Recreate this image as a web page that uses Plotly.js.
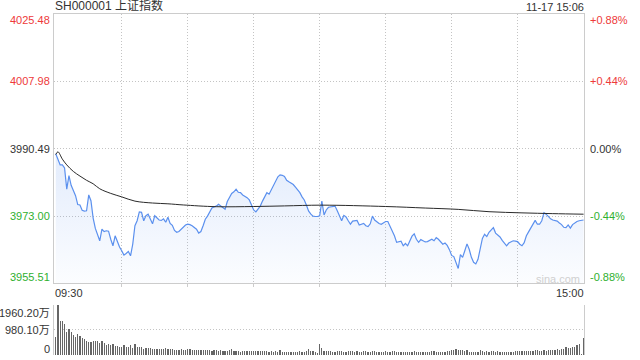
<!DOCTYPE html>
<html>
<head>
<meta charset="utf-8">
<script src="https://cdn.plot.ly/plotly-3.0.1.min.js"></script>
<style>html,body{margin:0;padding:0;background:#fff;}#chart{width:640px;height:360px;}</style>
</head>
<body>
<div id="chart"></div>
<script>
// ---- data ----
const title = 'SH000001 上证指数';
const stamp = '11-17 15:06';
const prevClose = 3990.49;
const priceTicks = [4025.48, 4007.98, 3990.49, 3973.00, 3955.51];
const priceTickText = ['4025.48', '4007.98', '3990.49', '3973.00', '3955.51'];
const pctTickText = ['+0.88%', '+0.44%', '0.00%', '-0.44%', '-0.88%'];
const volTicks = [1960.20, 980.10, 0];
const volTickText = ['1960.20万', '980.10万', '0'];
const timeLabels = ['09:30', '15:00'];

// price every minute (09:30 .. 11:30, 13:01 .. 15:00)
const prices = [
 3989.2,3987.6,3986.3,3986.3,3985.5,3980.0,3983.5,3981.0,3979.5,3978.3,
 3976.0,3975.9,3974.5,3974.3,3974.4,3978.5,3977.0,3972.5,3969.8,3967.9,
 3966.6,3969.6,3969.0,3969.2,3969.1,3967.0,3965.3,3967.9,3966.4,3965.0,
 3964.0,3962.9,3963.3,3963.8,3962.7,3965.7,3970.5,3971.8,3974.1,3974.0,
 3971.8,3973.1,3973.5,3972.2,3971.0,3973.1,3972.5,3972.0,3971.9,3972.3,
 3971.4,3972.7,3971.1,3970.6,3969.3,3968.8,3969.0,3969.5,3970.0,3970.7,
 3970.9,3970.8,3970.5,3970.1,3969.6,3968.6,3969.0,3970.5,3972.2,3973.0,
 3974.0,3975.1,3975.4,3975.6,3976.1,3975.7,3975.1,3974.8,3976.8,3978.0,
 3978.9,3979.3,3980.0,3979.2,3979.1,3978.5,3978.2,3977.8,3977.2,3976.0,
 3974.6,3974.1,3974.9,3975.6,3976.9,3978.0,3979.1,3978.7,3979.8,3981.0,
 3982.0,3983.2,3983.7,3983.6,3983.3,3982.3,3981.9,3981.6,3981.2,3980.5,
 3979.9,3979.1,3978.0,3977.2,3975.8,3974.3,3973.5,3973.0,3972.9,3972.9,
 3973.1,3976.9,3973.3,3974.6,3975.3,3975.4,3975.5,3975.6,3974.4,3973.2,
 3971.8,3973.2,3972.8,3971.8,3970.9,3971.7,3971.8,3971.9,3970.7,3971.0,
 3971.1,3970.5,3970.3,3971.0,3973.0,3972.0,3971.5,3971.1,3970.9,3971.3,
 3971.6,3971.6,3970.4,3969.0,3967.9,3966.2,3966.4,3966.5,3965.3,3965.9,
 3965.3,3966.4,3967.8,3968.4,3967.0,3966.2,3966.9,3966.6,3966.3,3966.4,
 3966.7,3967.0,3966.6,3967.4,3967.0,3966.4,3965.7,3966.0,3965.4,3964.3,
 3962.8,3962.5,3961.0,3959.4,3963.0,3962.3,3964.0,3965.8,3964.4,3962.3,
 3961.0,3960.6,3961.8,3965.0,3967.2,3968.3,3967.7,3968.8,3969.3,3970.0,
 3968.6,3968.1,3967.6,3966.7,3966.0,3965.3,3966.0,3966.4,3966.6,3966.5,
 3966.4,3965.7,3965.3,3966.1,3967.9,3968.9,3969.8,3971.0,3971.9,3970.9,
 3970.9,3971.8,3973.9,3973.5,3972.8,3972.3,3972.0,3971.9,3971.7,3971.2,
 3970.8,3970.1,3970.0,3970.7,3969.9,3970.8,3971.3,3971.6,3971.8,3971.9,
 3972.0
];

// average price line (minute, value)
const avgMinutes = [0,1,3,5,8,11,14,17,20,25,30,36,44,51,58,73,90,104,121,150,168,183,197,212,226,240];
const avgValues = [3989.0,3989.7,3987.8,3986.3,3984.6,3983.4,3982.3,3981.4,3980.1,3978.9,3978.0,3976.9,3976.4,3976.2,3975.9,3975.45,3975.5,3975.65,3975.85,3975.5,3975.1,3974.75,3974.15,3973.85,3973.65,3973.5];

// volume per minute (万)
const volumes = [
 693,1960,1333,1333,1202,915,1006,889,784,719,
 823,758,653,614,536,510,510,536,536,536,
 457,536,457,379,418,379,418,340,340,300,
 300,379,314,314,379,287,418,327,314,300,
 235,287,261,261,222,222,222,222,222,222,
 261,222,222,222,183,183,183,222,183,183,
 235,222,183,183,183,183,183,183,183,183,
 183,157,196,183,157,183,157,157,157,196,
 235,157,157,157,131,157,157,157,157,157,
 157,157,157,157,157,157,157,131,157,131,
 157,131,183,118,118,118,118,118,118,118,
 118,157,118,131,157,222,170,157,118,65,
 431,
 261,157,157,157,157,131,131,157,157,157,
 131,131,157,157,157,131,157,118,118,157,
 157,118,118,157,157,118,118,118,118,157,
 118,118,157,157,118,118,118,118,118,118,
 118,118,157,118,118,118,118,118,118,118,
 157,157,118,118,118,118,118,157,157,183,
 183,222,183,183,183,157,183,131,118,118,
 118,118,183,157,118,157,118,157,157,118,
 157,118,118,118,118,118,118,118,157,157,
 157,157,157,157,157,157,157,183,183,157,
 157,183,157,183,183,183,183,222,183,222,
 222,327,261,261,300,327,379,418,26,653
];

// ---- styles ----
const RED = '#ee3a3a', GREEN = '#2fb02f', DARK = '#333333';
const FONT = 'Arial, "Liberation Sans", "Noto Sans CJK SC", sans-serif';
const minutes = prices.map((_, i) => i);
const volMinutes = volumes.map((_, i) => i);
const XR = [-0.8, 240.2];
const GRID = {showgrid: true, gridcolor: '#c4c4c4', griddash: '1px,2px', gridwidth: 1};

function tickColor(v) { return v > prevClose + 0.001 ? RED : (v < prevClose - 0.001 ? GREEN : DARK); }

const traces = [
  {
    x: minutes, y: prices, type: 'scatter', mode: 'lines',
    line: {color: '#5b90ee', width: 1.2},
    fill: 'tozeroy',
    fillgradient: {type: 'vertical', start: priceTicks[4], stop: 3984,
      colorscale: [[0, 'rgba(91,144,238,0.02)'], [1, 'rgba(91,144,238,0.15)']]},
    xaxis: 'x', yaxis: 'y', hoverinfo: 'skip'
  },
  {
    x: avgMinutes, y: avgValues, type: 'scatter', mode: 'lines',
    line: {color: '#2a2a2a', width: 1, shape: 'spline'},
    xaxis: 'x', yaxis: 'y', hoverinfo: 'skip'
  },
  {
    x: volMinutes, y: volumes, type: 'bar', width: 0.55,
    marker: {color: '#666666', line: {width: 0}},
    xaxis: 'x2', yaxis: 'y2', hoverinfo: 'skip'
  }
];

const annotations = [];
annotations.push({text: title, xref: 'paper', yref: 'paper', x: 0, y: 1, xanchor: 'left', yanchor: 'bottom',
  showarrow: false, font: {family: FONT, size: 12, color: DARK}, xshift: -1, yshift: -1});
annotations.push({text: stamp, xref: 'paper', yref: 'paper', x: 1, y: 1, xanchor: 'right', yanchor: 'bottom',
  showarrow: false, font: {family: FONT, size: 11, color: DARK}, xshift: 2, yshift: -1});
priceTicks.forEach((v, i) => {
  const shift = i === 0 ? -6 : (i === priceTicks.length - 1 ? 6 : 0);
  annotations.push({text: priceTickText[i], xref: 'paper', yref: 'y', x: 0, y: v, xanchor: 'right', yanchor: 'middle',
    showarrow: false, font: {family: FONT, size: 11, color: tickColor(v)}, xshift: -2, yshift: shift});
  annotations.push({text: pctTickText[i], xref: 'paper', yref: 'y', x: 1, y: v, xanchor: 'left', yanchor: 'middle',
    showarrow: false, font: {family: FONT, size: 11, color: tickColor(v)}, xshift: 4, yshift: shift});
});
volTicks.forEach((v, i) => {
  const shift = i === 0 ? -8 : (i === volTicks.length - 1 ? 6 : 0);
  annotations.push({text: volTickText[i], xref: 'paper', yref: 'y2', x: 0, y: v, xanchor: 'right', yanchor: 'middle',
    showarrow: false, font: {family: FONT, size: 11, color: DARK}, xshift: -2, yshift: shift});
});
annotations.push({text: timeLabels[0], xref: 'paper', yref: 'paper', x: 0, y: 0.2097, xanchor: 'left', yanchor: 'top',
  showarrow: false, font: {family: FONT, size: 11, color: DARK}, xshift: -1, yshift: -2});
annotations.push({text: timeLabels[1], xref: 'paper', yref: 'paper', x: 1, y: 0.2097, xanchor: 'right', yanchor: 'top',
  showarrow: false, font: {family: FONT, size: 11, color: DARK}, xshift: 2, yshift: -2});
annotations.push({text: 'sina.com', xref: 'paper', yref: 'paper', x: 1, y: 0.2097, xanchor: 'right', yanchor: 'bottom',
  showarrow: false, font: {family: FONT, size: 11, color: '#d0d0d0'}, xshift: -2, yshift: -4});

const gridX = [30, 60, 90, 120, 150, 180, 210];

const layout = {
  width: 640, height: 360,
  margin: {l: 54, r: 56, t: 14, b: 5, pad: 0},
  paper_bgcolor: '#ffffff', plot_bgcolor: '#ffffff',
  showlegend: false,
  bargap: 0,
  xaxis: Object.assign({domain: [0, 1], range: XR, anchor: 'y', tickvals: gridX, showticklabels: false,
    ticks: 'outside', ticklen: 3, tickcolor: '#cccccc',
    showline: true, mirror: true, linecolor: '#cccccc', linewidth: 1, zeroline: false, fixedrange: true}, GRID),
  yaxis: Object.assign({domain: [0.2097, 1], range: [priceTicks[4], priceTicks[0]], tickvals: priceTicks, showticklabels: false,
    showline: true, mirror: true, linecolor: '#cccccc', linewidth: 1, zeroline: false, ticks: '', fixedrange: true}, GRID),
  xaxis2: {domain: [0, 1], range: XR, anchor: 'y2', showticklabels: false, showgrid: false,
    showline: false, zeroline: false, ticks: '', fixedrange: true},
  yaxis2: Object.assign({domain: [0, 0.1475], range: [0, volTicks[0]], tickvals: [volTicks[0], volTicks[1]], showticklabels: false,
    showline: true, mirror: true, linecolor: '#cccccc', linewidth: 1, zeroline: false, ticks: '', fixedrange: true}, GRID),
  annotations: annotations
};

Plotly.newPlot('chart', traces, layout, {staticPlot: true, displayModeBar: false});
</script>
</body>
</html>
